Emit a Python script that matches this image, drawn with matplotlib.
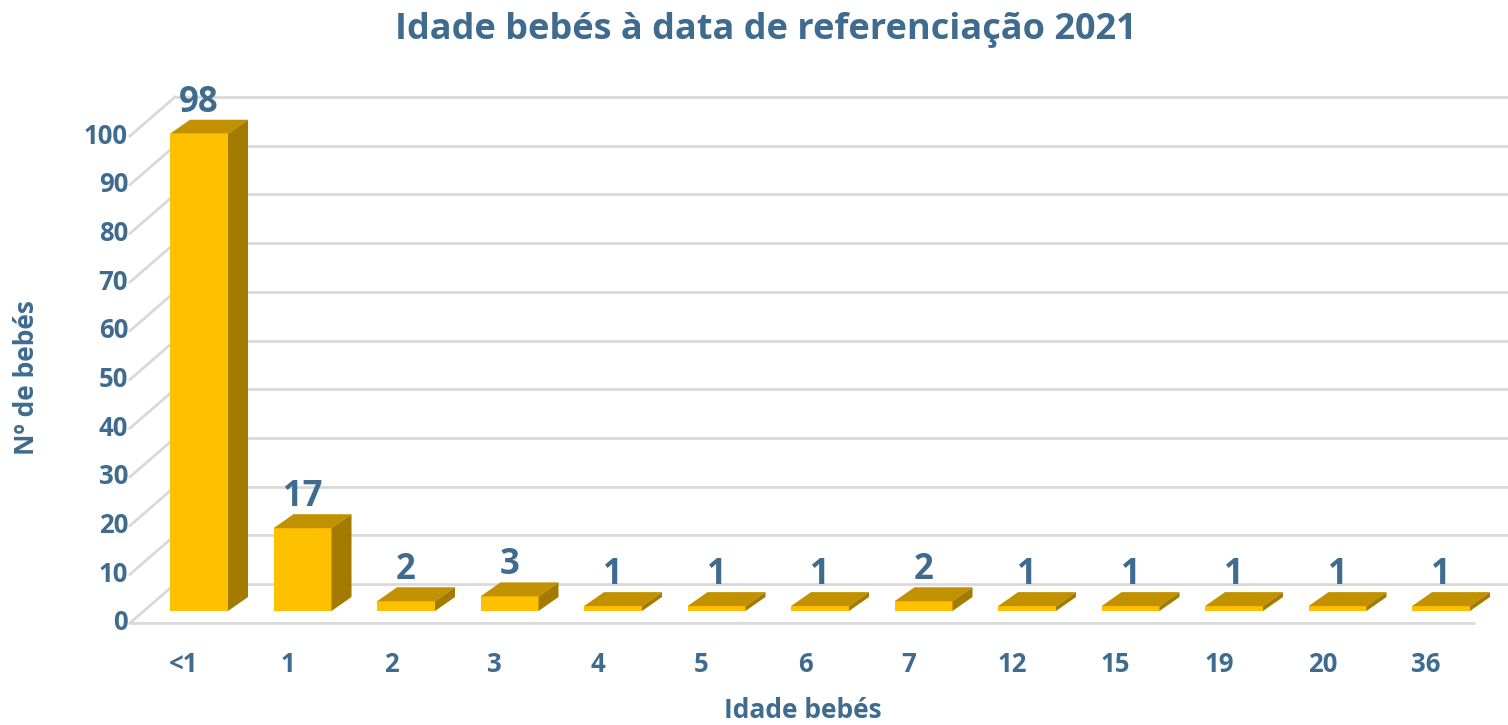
import matplotlib
matplotlib.use("Agg")
import matplotlib.pyplot as plt
from matplotlib.patches import Polygon
import numpy as np

categories = ["<1", "1", "2", "3", "4", "5", "6", "7", "12", "15", "19", "20", "36"]
values = [98, 17, 2, 3, 1, 1, 1, 2, 1, 1, 1, 1, 1]
yticks = list(range(0, 101, 10))

title = "Idade bebés à data de referenciação 2021"
xlabel = "Idade bebés"
ylabel = "Nº de bebés"

TXT = "#3F6B8F"
FRONT = "#FFC000"
TOP = "#C29100"
SIDE = "#A37B00"
GRID = "#D9D9D9"

plt.rcParams['font.family'] = ['Open Sans', 'DejaVu Sans']
plt.rcParams['font.weight'] = 'bold'

W, H = 1508, 725
fig = plt.figure(figsize=(W / 100, H / 100), dpi=100)
ax = fig.add_axes([0, 0, 1, 1])

PITCH = 103.5
UNIT = 4.87
X0 = 199.0
Y0 = 611.0
ax.set_xlim(-X0 / PITCH, (W - X0) / PITCH)
ax.set_ylim((Y0 - H) / UNIT, Y0 / UNIT)
ax.axis('off')

PXX = 1 / PITCH
PXY = 1 / UNIT

yf = -12 * PXY
yb = 27 * PXY
xfl = (130 - X0) * PXX
xbl = (175 - X0) * PXX
xfr = (1475 - X0) * PXX
xbr = (W + 5 - X0) * PXX

TICK_FS = 18.5
for v in yticks:
    ax.plot([xbl, xbr], [v + yb, v + yb], color=GRID, lw=2, zorder=1, solid_capstyle='butt')
    ax.plot([xfl, xbl], [v + yf, v + yb], color=GRID, lw=2, zorder=1)
    ax.text((128 - X0) * PXX, v + yf, str(v), ha='right', va='center',
            fontsize=TICK_FS, color=TXT, fontweight='bold')
ax.plot([xfl, xfr], [yf, yf], color=GRID, lw=2, zorder=1, solid_capstyle='butt')

hw = 29 * PXX
ddx = 20 * PXX
ddy = 14 * PXY
for i, (c, v) in enumerate(zip(categories, values)):
    front = Polygon([(i - hw, 0), (i + hw, 0), (i + hw, v), (i - hw, v)],
                    closed=True, facecolor=FRONT, edgecolor='none', zorder=3)
    top = Polygon([(i - hw, v), (i + hw, v), (i + hw + ddx, v + ddy), (i - hw + ddx, v + ddy)],
                  closed=True, facecolor=TOP, edgecolor='none', zorder=3)
    side = Polygon([(i + hw, 0), (i + hw, v), (i + hw + ddx, v + ddy), (i + hw + ddx, ddy)],
                   closed=True, facecolor=SIDE, edgecolor='none', zorder=3)
    for p in (front, top, side):
        ax.add_patch(p)
    ax.text(i, v + ddy + 8 * PXY, str(v), ha='center', va='baseline',
            fontsize=25, color=TXT, fontweight='bold', zorder=4)
    ax.text(i - 15 * PXX, (Y0 - 665) * PXY, c, ha='center', va='center',
            fontsize=TICK_FS, color=TXT, fontweight='bold')

fig.text(766 / W, 1 - 30 / H, title, ha='center', va='center', fontsize=26,
         color=TXT, fontweight='bold')
fig.text(803 / W, 1 - 711 / H, xlabel, ha='center', va='center', fontsize=19,
         color=TXT, fontweight='bold')
fig.text(27 / W, 1 - 378 / H, ylabel, ha='center', va='center', fontsize=19,
         color=TXT, fontweight='bold', rotation=90)

fig.savefig("out.png", dpi=100)
